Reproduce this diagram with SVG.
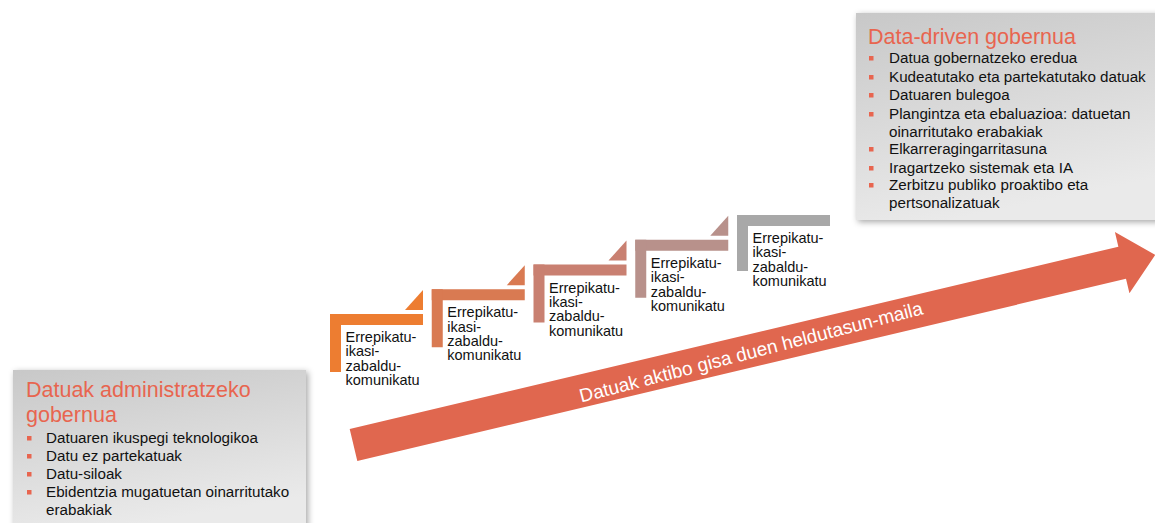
<svg xmlns="http://www.w3.org/2000/svg" width="1155" height="523" viewBox="0 0 1155 523">
  <defs>
    <linearGradient id="boxGrad" x1="0" y1="0" x2="0.3" y2="1">
      <stop offset="0" stop-color="#c8c8c8"/>
      <stop offset="1" stop-color="#eaeaea"/>
    </linearGradient>
    <filter id="shadow" x="-10%" y="-10%" width="130%" height="130%">
      <feDropShadow dx="2" dy="2" stdDeviation="3" flood-color="#000" flood-opacity="0.35"/>
    </filter>
    <style>
      .title { font-family: "Liberation Sans", Arial, sans-serif; font-size: 21.5px; fill: #E8654F; }
      .item { font-family: "Liberation Sans", Arial, sans-serif; font-size: 15.2px; fill: #111; }
      .bullet { fill: #E8654F; }
      .step { font-family: "Liberation Sans", Arial, sans-serif; font-size: 14.5px; fill: #111; }
      .arrowtext { font-family: "Liberation Sans", Arial, sans-serif; font-size: 19px; fill: #fff; }
    </style>
  </defs>

  <rect width="1155" height="523" fill="#fff"/>

  <g id="connectors">
    <g id="maturity-arrow">
      <polygon transform="translate(353.5,445) rotate(-13.34)" points="0,-16.5 790,-16.5 790,-31.5 824,0 790,31.5 790,16.5 0,16.5" fill="#E0674F"/>
      <text class="arrowtext" transform="translate(751,352) rotate(-14.5)" text-anchor="middle" dominant-baseline="central">Datuak aktibo gisa duen heldutasun-maila</text>
    </g>
  </g>

  <g id="box-admin">
    <rect x="13" y="370" width="293" height="160" fill="url(#boxGrad)" filter="url(#shadow)"/>
    <text class="title" x="26" y="397">Datuak administratzeko</text>
    <text class="title" x="26" y="422">gobernua</text>
    <rect class="bullet" x="27" y="436" width="4.5" height="4.5"/>
    <text class="item" x="46" y="443">Datuaren ikuspegi teknologikoa</text>
    <rect class="bullet" x="27" y="454" width="4.5" height="4.5"/>
    <text class="item" x="46" y="461">Datu ez partekatuak</text>
    <rect class="bullet" x="27" y="472" width="4.5" height="4.5"/>
    <text class="item" x="46" y="479">Datu-siloak</text>
    <rect class="bullet" x="27" y="490" width="4.5" height="4.5"/>
    <text class="item" x="46" y="497">Ebidentzia mugatuetan oinarritutako</text>
    <text class="item" x="46" y="515">erabakiak</text>
  </g>

  <g id="box-datadriven">
    <rect x="856" y="13" width="310" height="207" fill="url(#boxGrad)" filter="url(#shadow)"/>
    <text class="title" x="868" y="44">Data-driven gobernua</text>
    <rect class="bullet" x="869" y="56" width="4.5" height="4.5"/>
    <text class="item" x="889" y="63">Datua gobernatzeko eredua</text>
    <rect class="bullet" x="869" y="75" width="4.5" height="4.5"/>
    <text class="item" x="889" y="82">Kudeatutako eta partekatutako datuak</text>
    <rect class="bullet" x="869" y="93" width="4.5" height="4.5"/>
    <text class="item" x="889" y="100">Datuaren bulegoa</text>
    <rect class="bullet" x="869" y="112" width="4.5" height="4.5"/>
    <text class="item" x="889" y="119">Plangintza eta ebaluazioa: datuetan</text>
    <text class="item" x="889" y="137">oinarritutako erabakiak</text>
    <rect class="bullet" x="869" y="147" width="4.5" height="4.5"/>
    <text class="item" x="889" y="154">Elkarreragingarritasuna</text>
    <rect class="bullet" x="869" y="166" width="4.5" height="4.5"/>
    <text class="item" x="889" y="173">Iragartzeko sistemak eta IA</text>
    <rect class="bullet" x="869" y="183" width="4.5" height="4.5"/>
    <text class="item" x="889" y="190">Zerbitzu publiko proaktibo eta</text>
    <text class="item" x="889" y="208">pertsonalizatuak</text>
  </g>

  <g id="step-1" fill="#ED7D31">
    <rect x="330" y="314" width="93" height="11"/>
    <rect x="330" y="314" width="11" height="58"/>
    <polygon points="405,310 423,310 423,290"/>
    <text class="step" x="345.5" y="342">Errepikatu-</text>
    <text class="step" x="345.5" y="356.4">ikasi-</text>
    <text class="step" x="345.5" y="370.8">zabaldu-</text>
    <text class="step" x="345.5" y="385.2">komunikatu</text>
  </g>

  <g id="step-2" fill="#D97A52">
    <rect x="431.75" y="289.25" width="93" height="11"/>
    <rect x="431.75" y="289.25" width="11" height="58"/>
    <polygon points="506.75,285.25 524.75,285.25 524.75,265.25"/>
    <text class="step" x="447.25" y="317.25">Errepikatu-</text>
    <text class="step" x="447.25" y="331.65">ikasi-</text>
    <text class="step" x="447.25" y="346.05">zabaldu-</text>
    <text class="step" x="447.25" y="360.45">komunikatu</text>
  </g>

  <g id="step-3" fill="#C98071">
    <rect x="533.5" y="264.5" width="93" height="11"/>
    <rect x="533.5" y="264.5" width="11" height="58"/>
    <polygon points="608.5,260.5 626.5,260.5 626.5,240.5"/>
    <text class="step" x="549" y="292.5">Errepikatu-</text>
    <text class="step" x="549" y="306.9">ikasi-</text>
    <text class="step" x="549" y="321.3">zabaldu-</text>
    <text class="step" x="549" y="335.7">komunikatu</text>
  </g>

  <g id="step-4" fill="#B8918B">
    <rect x="635.25" y="239.75" width="93" height="11"/>
    <rect x="635.25" y="239.75" width="11" height="58"/>
    <polygon points="710.25,235.75 728.25,235.75 728.25,215.75"/>
    <text class="step" x="650.75" y="267.75">Errepikatu-</text>
    <text class="step" x="650.75" y="282.15">ikasi-</text>
    <text class="step" x="650.75" y="296.55">zabaldu-</text>
    <text class="step" x="650.75" y="310.95">komunikatu</text>
  </g>

  <g id="step-5" fill="#A8A8A8">
    <rect x="737" y="215" width="93" height="11"/>
    <rect x="737" y="215" width="11" height="56"/>
    <text class="step" x="752.5" y="243">Errepikatu-</text>
    <text class="step" x="752.5" y="257.4">ikasi-</text>
    <text class="step" x="752.5" y="271.8">zabaldu-</text>
    <text class="step" x="752.5" y="286.2">komunikatu</text>
  </g>
</svg>
